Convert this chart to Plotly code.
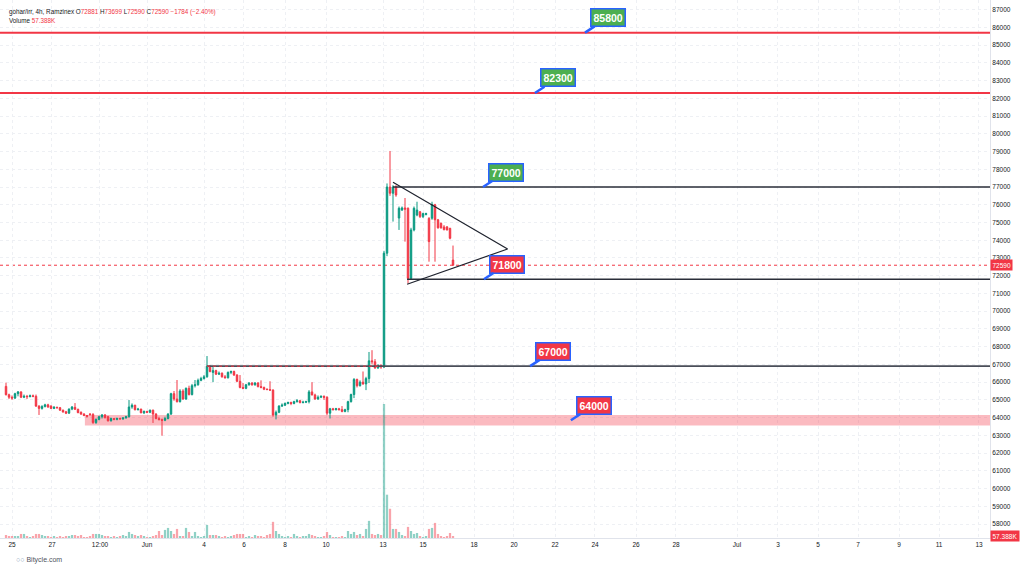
import plotly.graph_objects as go

# ---------------- data ----------------
opens = [65760, 65290, 65150, 65100, 65350, 65450, 65150, 65200, 65180, 65230,
         65200, 64650, 64520, 64620, 64720, 64650, 64520, 64580, 64560, 64420,
         64330, 64250, 64480, 64580, 64470, 64300, 64200, 64120, 64200, 64180,
         63720, 63900, 64050, 64150, 64050, 63820, 63950, 63900, 63950, 63930,
         63980, 64050, 64600, 64700, 64450, 64480, 64270, 64350, 64300, 64420,
         64200, 63950, 63880, 63850, 63950, 64200, 65350, 65050, 64900, 65500,
         65050, 65650, 65300, 65800, 65850, 66100, 66200, 66300, 66900, 66550,
         66650, 66450, 66500, 66300, 66250, 66550, 66600, 66400, 66050, 65700,
         65650, 65850, 65950, 65850, 65950, 65750, 65700, 65600, 65580, 65550,
         64150, 64300, 64650, 64700, 64800, 64850, 64800, 64900, 64950, 64850,
         64870, 64900, 65450, 65280, 65050, 65150, 65200, 65150, 64250, 64500,
         64450, 64500, 64450, 64350, 64450, 64900, 65300, 66150, 65800, 66000,
         65900, 66200, 67200, 67150, 66800, 66950, 66850, 73270, 77000, 76650,
         77000, 75250, 75700, 75820, 75800, 71850, 74580, 75420, 75600, 75330,
         75450, 75230, 75240, 76000, 75150, 74950, 74750, 74750, 74670, 72881]
highs = [65970, 65350, 65250, 65400, 65500, 65480, 65300, 65280, 65300, 65300,
         65300, 64700, 64700, 64780, 64780, 64700, 64650, 64620, 64600, 64450,
         64380, 64520, 64650, 64820, 64500, 64350, 64250, 64150, 64250, 64250,
         63950, 64100, 64200, 64200, 64100, 64000, 63980, 64000, 64000, 64020,
         64100, 64990, 64800, 64720, 64550, 64500, 64400, 64380, 64450, 64450,
         64250, 64050, 63950, 64050, 64250, 65400, 65500, 66120, 65600, 65600,
         65700, 65800, 65900, 66120, 66200, 66300, 66400, 67470, 66950, 66850,
         66700, 66600, 66550, 66400, 66600, 66650, 66650, 66450, 66400, 65950,
         65900, 66000, 66000, 66000, 66000, 66100, 65750, 65650, 66050, 65600,
         64400, 64700, 64800, 64850, 64900, 64900, 64950, 65050, 65000, 64950,
         64950, 65550, 66000, 65350, 65250, 65250, 65250, 65200, 64550, 64550,
         64550, 64550, 64650, 64500, 64950, 65350, 66230, 66200, 66100, 66600,
         66300, 67700, 67800, 67300, 67000, 67000, 73400, 77200, 79030, 77100,
         77100, 75900, 75900, 76380, 75850, 74700, 75900, 76170, 75650, 75550,
         75550, 75300, 76170, 76050, 75200, 75000, 74850, 74800, 74700, 73699]
lows = [65250, 65050, 65000, 65050, 65200, 65100, 65100, 65050, 65150, 65150,
        64600, 64150, 64450, 64580, 64550, 64480, 64480, 64500, 64380, 64280,
        64200, 64220, 64420, 64430, 64250, 64150, 64080, 64000, 64100, 63650,
        63650, 63850, 63950, 63950, 63780, 63780, 63850, 63850, 63880, 63880,
        63950, 64000, 64500, 64400, 64400, 64250, 64200, 64250, 64250, 63700,
        63900, 63850, 62980, 63800, 63900, 64150, 64950, 64850, 64850, 65000,
        65000, 65250, 65250, 65700, 65800, 66050, 66150, 66250, 66550, 66000,
        66400, 66400, 66250, 66200, 66200, 66450, 66350, 66000, 65650, 65600,
        65600, 65800, 65800, 65800, 65700, 65650, 65550, 65550, 65500, 64050,
        63900, 64250, 64600, 64650, 64750, 64700, 64750, 64850, 64800, 64800,
        64820, 64800, 65250, 65000, 65000, 65100, 65000, 64150, 63950, 64400,
        64400, 64400, 64300, 64300, 64300, 64850, 65100, 65700, 65750, 65850,
        65550, 65950, 67000, 66750, 66750, 66750, 66800, 73100, 76500, 75050,
        76450, 74580, 75650, 73920, 71570, 71800, 74500, 75350, 75250, 75250,
        75400, 72790, 75150, 72790, 74650, 74650, 74550, 74550, 74050, 72590]
closes = [65290, 65150, 65100, 65350, 65450, 65150, 65200, 65180, 65230, 65200,
          64650, 64520, 64620, 64720, 64600, 64520, 64580, 64560, 64420, 64320,
          64250, 64480, 64600, 64470, 64280, 64200, 64120, 64080, 64180, 63720,
          63900, 64050, 64150, 64000, 63820, 63950, 63900, 63950, 63930, 63980,
          64050, 64600, 64700, 64450, 64480, 64270, 64350, 64300, 64420, 64200,
          63950, 63880, 63850, 63950, 64200, 65350, 65050, 64900, 65500, 65050,
          65650, 65300, 65800, 65850, 66100, 66200, 66300, 66900, 66600, 66650,
          66450, 66500, 66300, 66250, 66550, 66600, 66400, 66050, 65700, 65650,
          65850, 65950, 65850, 65950, 65750, 65700, 65600, 65580, 65550, 64150,
          64300, 64650, 64700, 64800, 64850, 64800, 64900, 64950, 64850, 64870,
          64900, 65450, 65280, 65050, 65150, 65200, 65150, 64250, 64500, 64450,
          64500, 64450, 64350, 64450, 64900, 65300, 66150, 65800, 66000, 65900,
          66200, 67200, 67150, 66800, 66950, 66850, 73270, 77000, 76650, 77000,
          76550, 75800, 75820, 75750, 71850, 74580, 75800, 75700, 75330, 75500,
          75500, 73920, 76020, 75150, 74700, 74700, 74600, 74580, 74110, 72590]
volumes_k = [86, 57, 57, 57, 57, 115, 115, 57, 29, 57,
             115, 115, 86, 57, 57, 29, 57, 29, 57, 29,
             57, 57, 86, 86, 57, 86, 29, 29, 57, 115,
             115, 115, 86, 57, 57, 29, 57, 29, 57, 86,
             57, 172, 115, 86, 57, 86, 57, 29, 29, 57,
             86, 200, 86, 230, 287, 200, 115, 258, 57, 57,
             287, 172, 57, 172, 57, 29, 57, 373, 86, 86,
             86, 57, 29, 57, 29, 57, 86, 115, 115, 115,
             29, 57, 29, 86, 57, 57, 29, 86, 115, 460,
             200, 115, 57, 29, 57, 29, 115, 57, 29, 57,
             57, 115, 86, 57, 29, 29, 57, 172, 86, 29,
             29, 29, 57, 29, 200, 115, 172, 86, 115, 57,
             258, 488, 115, 86, 115, 86, 3817, 1234, 832, 258,
             258, 172, 86, 57, 316, 200, 115, 143, 57, 29,
             57, 258, 287, 430, 115, 57, 29, 57, 143, 57.388]

tick_pos = [2, 15.33, 31.33, 47, 66, 79.33, 93, 106.67, 125.67, 139, 156,
            169.33, 183, 196.33, 210, 223.33, 243.67, 257.33, 270.67, 284,
            297.67, 311, 324.33]
tick_text = ['25', '27', '12:00', 'Jun', '4', '6', '8', '10', '13', '15', '18',
             '20', '22', '24', '26', '28', 'Jul', '3', '5', '7', '9', '11', '13']

# drawn levels (price, start bar)
level_prices = [85700, 82300, 77000, 71800, 66900]
level_starts = [-2, -2, 129, 133.7, 67]
level_colors = ['#f23645', '#f23645', '#2a2e39', '#2a2e39', '#4a4e59']
zone_low, zone_high, zone_start = 63550, 64150, 26.3

# callout labels
label_texts = ['85800', '82300', '77000', '71800', '67000', '64000']
label_tip_x = [193, 176.3, 159, 159.3, 174.7, 188.3]
label_tip_y = [85700, 82300, 77000, 71800, 66900, 63850]
label_up = [True, True, True, False, False, False]

# triangle pattern
tri_x = [129, 167.2, 133.7]
tri_y = [77265, 73505, 71515]

last_price = 72590
X_MIN, X_MAX = -2, 328
GREEN, RED = '#089981', '#f23645'

n = len(closes)
xs = list(range(n))

fig = go.Figure()

vol_colors = ['rgba(8,153,129,0.45)' if c >= o else 'rgba(242,54,69,0.45)'
              for o, c in zip(opens, closes)]
fig.add_trace(go.Bar(x=xs, y=volumes_k, marker_color=vol_colors, marker_line_width=0,
                     width=0.75, yaxis='y2', showlegend=False, hoverinfo='skip'))

fig.add_trace(go.Candlestick(
    x=xs, open=opens, high=highs, low=lows, close=closes,
    increasing=dict(line=dict(color=GREEN, width=1), fillcolor=GREEN),
    decreasing=dict(line=dict(color=RED, width=1), fillcolor=RED),
    whiskerwidth=0, showlegend=False))

# level lines
for p, s, col in zip(level_prices, level_starts, level_colors):
    fig.add_trace(go.Scatter(x=[s, X_MAX], y=[p, p], mode='lines',
                             line=dict(color=col, width=1.6 if col != RED else 2),
                             showlegend=False, hoverinfo='skip'))
# reddish overlay on the left part of 67000 line
fig.add_trace(go.Scatter(x=[level_starts[4], 124.7], y=[level_prices[4]] * 2, mode='lines',
                         line=dict(color=RED, width=1, dash='dot'),
                         showlegend=False, hoverinfo='skip'))

# triangle
fig.add_trace(go.Scatter(x=tri_x, y=tri_y, mode='lines',
                         line=dict(color='#1e222d', width=1.2),
                         showlegend=False, hoverinfo='skip'))

shapes = [
    dict(type='rect', xref='x', yref='y', x0=zone_start, x1=X_MAX, y0=zone_low, y1=zone_high,
         fillcolor='rgba(242,54,69,0.34)', line_width=0, layer='between'),
    dict(type='line', xref='paper', yref='y', x0=0, x1=1, y0=last_price, y1=last_price,
         line=dict(color=RED, width=1, dash='dot'), layer='between'),
]

annotations = []
for t, tx, ty, up in zip(label_texts, label_tip_x, label_tip_y, label_up):
    annotations.append(dict(
        x=tx, y=ty, xref='x', yref='y', text='<b>' + t + '</b>',
        showarrow=True, arrowhead=0, arrowwidth=2.5, arrowcolor='#2962ff',
        ax=23, ay=-15, standoff=0,
        bgcolor='#4caf50' if up else RED, bordercolor='#2962ff', borderwidth=1.5,
        borderpad=2, font=dict(color='white', size=10.5, family='Liberation Sans')))

hdr = ('gohar/irr, 4h, Ramzinex O<span style="color:#f23645">72881</span> '
       'H<span style="color:#f23645">73699</span> L<span style="color:#f23645">72590</span> '
       'C<span style="color:#f23645">72590</span> <span style="color:#f23645">\u22121784 (\u22122.40%)</span>')
annotations.append(dict(xref='paper', yref='paper', x=0, y=1, xanchor='left', yanchor='top',
                        xshift=7, yshift=-6, text=hdr, showarrow=False,
                        font=dict(size=6.3, color='#131722', family='Liberation Sans')))
annotations.append(dict(xref='paper', yref='paper', x=0, y=1, xanchor='left', yanchor='top',
                        xshift=7, yshift=-15, text='Volume <span style="color:#f23645">57.388K</span>',
                        showarrow=False, font=dict(size=6.3, color='#131722', family='Liberation Sans')))
# axis price tags
annotations.append(dict(xref='paper', yref='y', x=1, y=last_price, xanchor='left', yanchor='middle',
                        text='72590', showarrow=False, bgcolor=RED, borderpad=1.5,
                        font=dict(size=6.5, color='white', family='Liberation Sans')))
annotations.append(dict(xref='paper', yref='y2', x=1, y=volumes_k[-1], xanchor='left', yanchor='middle',
                        text='57.388K', showarrow=False, bgcolor=RED, borderpad=1.5,
                        font=dict(size=6.5, color='white', family='Liberation Sans')))
# watermark
annotations.append(dict(xref='paper', yref='paper', x=0, y=0, xanchor='left', yanchor='top',
                        xshift=14, yshift=-16,
                        text='<span style="color:#8aa0b8">\u25CB\u25CB</span> Bitycle.com',
                        showarrow=False, font=dict(size=7, color='#50535e', family='Liberation Sans')))

vmax = max(volumes_k)
fig.update_layout(
    width=1024, height=568,
    margin=dict(l=0, r=34, t=0, b=30),
    paper_bgcolor='white', plot_bgcolor='white',
    shapes=shapes, annotations=annotations,
    boxgap=0.3,
    xaxis=dict(range=[X_MIN, X_MAX], tickvals=tick_pos, ticktext=tick_text,
               showgrid=True, gridcolor='#eef0f4', griddash='dot', zeroline=False,
               rangeslider=dict(visible=False), showline=True, linecolor='#e0e3eb',
               ticks='', tickfont=dict(size=6.5, color='#131722', family='Liberation Sans')),
    yaxis=dict(range=[57214, 87541], side='right', dtick=1000, tick0=0, tickformat='d',
               showgrid=True, gridcolor='#eef0f4', griddash='dot', zeroline=False,
               showline=True, linecolor='#e0e3eb', ticks='',
               tickfont=dict(size=6.5, color='#131722', family='Liberation Sans')),
    yaxis2=dict(overlaying='y', range=[0, vmax * 538 / 134], visible=False),
    hovermode=False,
)

fig.write_html('out.html', config={'displayModeBar': False},
               post_script="document.body.style.margin='0';document.body.style.overflow='hidden';")
